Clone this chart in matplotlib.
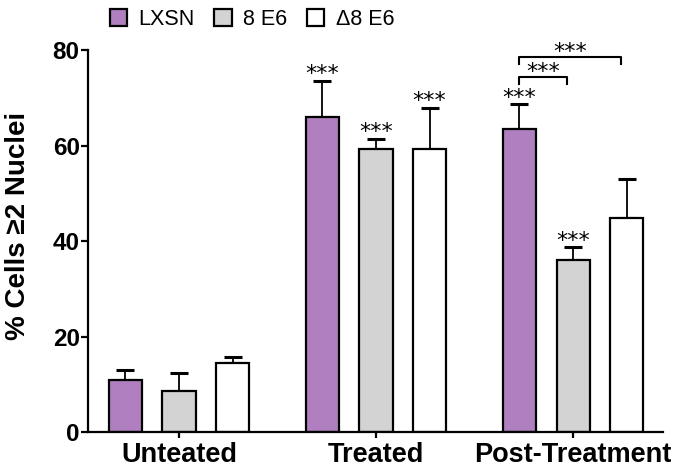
import numpy as np
import matplotlib
matplotlib.use("Agg")
import matplotlib.pyplot as plt
from matplotlib.patches import Patch

plt.rcParams['font.family'] = ['Liberation Sans', 'DejaVu Sans']

# Datos
grupos = ["Unteated", "Treated", "Post-Treatment"]
series = ["LXSN", "8 E6", "\u03948 E6"]
colores = ["#b07fbf", "#d3d3d3", "#ffffff"]
medias = [
    [10.9, 65.9, 63.4],   # LXSN
    [8.6, 59.2, 36.0],    # 8 E6
    [14.5, 59.2, 44.8],   # delta 8 E6
]
errores = [
    [2.1, 7.7, 5.3],
    [3.7, 2.2, 2.7],
    [1.3, 8.7, 8.1],
]
# estrellas sobre barras: (serie, grupo)
estrellas = [(0, 1), (1, 1), (2, 1), (0, 2), (1, 2)]
# corchetes de comparacion en Post-Treatment: (serie a, serie b, altura)
corchetes = [(0, 1, 74.4), (0, 2, 78.6)]

x = np.arange(len(grupos))
sep = 0.272
ancho = 0.168

fig = plt.figure(figsize=(6.85, 4.68), dpi=100)
ax = fig.add_axes([0.1285, 0.0769, 0.8395, 0.8161])

for i, (nombre, color) in enumerate(zip(series, colores)):
    pos = x + (i - 1) * sep
    ax.errorbar(pos, medias[i], yerr=[np.zeros(3), errores[i]], fmt="none",
                ecolor="black", elinewidth=1.3, capsize=6.5, capthick=2.2, zorder=1)
    ax.bar(pos, medias[i], width=ancho, color=color, edgecolor="black",
           linewidth=1.6, zorder=2)

for s, g in estrellas:
    pos = g + (s - 1) * sep
    top = medias[s][g] + errores[s][g]
    ax.text(pos, top + 0.1, "***", ha="center", va="baseline", fontsize=16,
            family="DejaVu Sans")

for a, b, h in corchetes:
    xa = 2 + (a - 1) * sep
    xb = 2 + (b - 1) * sep - 0.03
    ax.plot([xa, xa, xb, xb], [h - 1.6, h, h, h - 1.6], color="black", lw=1.5,
            clip_on=False)
    ax.text((xa + xb) / 2, h - 0.3, "***", ha="center", va="baseline", fontsize=16,
            family="DejaVu Sans")

ax.set_xlim(-0.462, 2.457)
ax.set_ylim(0, 80)
ax.set_yticks([0, 20, 40, 60, 80])
ax.set_xticks(x)
ax.set_xticklabels(grupos, fontsize=19.5, fontweight="bold")
for lbl in ax.get_yticklabels():
    lbl.set_fontsize(17.5)
    lbl.set_fontweight("bold")
ax.set_ylabel("% Cells \u22652 Nuclei", fontsize=20, fontweight="bold")
ax.yaxis.set_label_coords(-0.1, 0.54)
ax.spines["top"].set_visible(False)
ax.spines["right"].set_visible(False)
ax.spines["left"].set_linewidth(1.6)
ax.spines["bottom"].set_linewidth(1.6)
ax.tick_params(axis="y", direction="out", length=5, width=1.6, pad=1)
ax.tick_params(axis="x", direction="out", length=4, width=1.6, pad=3)

handles = [Patch(facecolor=c, edgecolor="black", linewidth=1.6) for c in colores]
fig.legend(handles, series, loc="center left", bbox_to_anchor=(0.16, 0.958),
           ncol=3, frameon=False, fontsize=15.5, handlelength=0.8, handleheight=0.8,
           handletextpad=0.55, columnspacing=0.9, borderaxespad=0, borderpad=0)

fig.savefig("out.png", dpi=100)
